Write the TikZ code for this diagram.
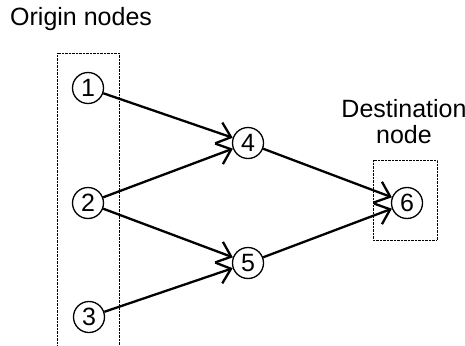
\documentclass[tikz,border=0pt]{standalone}
\usepackage{fontspec}
\setmainfont{Liberation Sans}
\usetikzlibrary{arrows.meta}

\begin{document}
\begin{tikzpicture}[x=1pt,y=-1pt,
    txt/.style={font=\fontsize{25}{26}\selectfont, inner sep=0pt},
    num/.style={draw, circle, line width=1.3pt, minimum size=31pt, inner sep=0pt,
      font=\fontsize{25}{26}\selectfont},
    link/.style={line width=2.3pt, -{Straight Barb[length=13pt,width=22pt,line width=2.3pt]}}]
    \useasboundingbox (0,0) rectangle (465,345);
    % groups
    \draw [densely dotted] (57,345) -- (57,53) -- (119,53) -- (119,345);
    \draw [densely dotted] (373,160) rectangle (437,240);
    \node [txt, anchor=base west] (lorig) at (10,26) {Origin nodes};
    \node [txt, align=center] (ldest) at (404,122) {Destination\\node};
    % nodes
    \node [num] (n1) at (88,88) {1};
    \node [num] (n2) at (88,203) {2};
    \node [num] (n3) at (89,317) {3};
    \node [num] (n4) at (248,143) {4};
    \node [num] (n5) at (248,263) {5};
    \node [num] (n6) at (407,203) {6};
    % links
    \draw [link] (n1) -- (n4);
    \draw [link] (n2) -- (n4);
    \draw [link] (n2) -- (n5);
    \draw [link] (n3) -- (n5);
    \draw [link] (n4) -- (n6);
    \draw [link] (n5) -- (n6);
  \end{tikzpicture}
\end{document}
